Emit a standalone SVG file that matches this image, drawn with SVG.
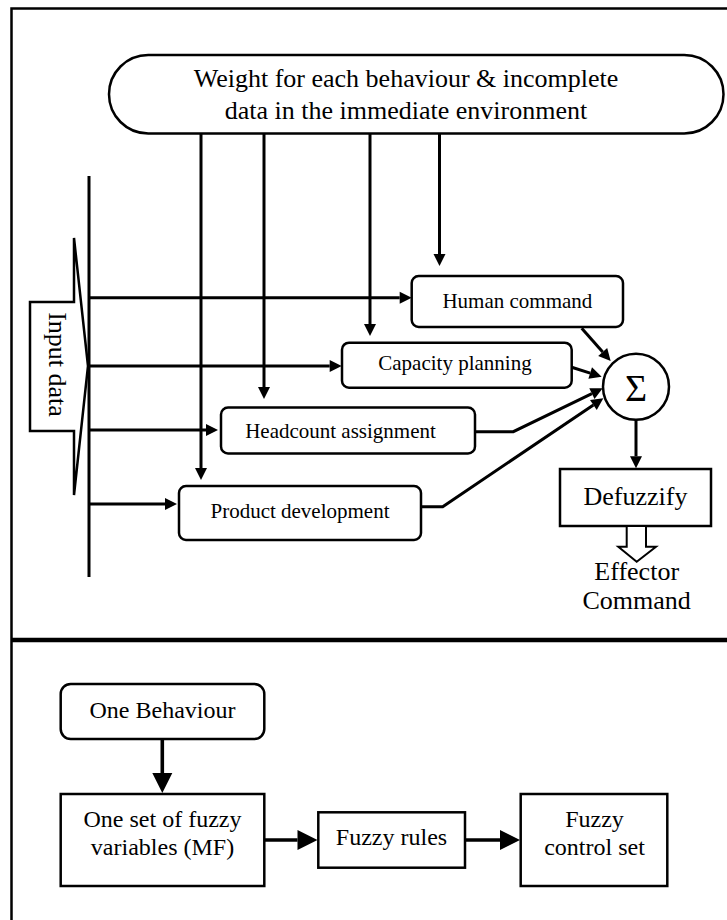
<svg xmlns="http://www.w3.org/2000/svg" width="727" height="920" viewBox="0 0 727 920">
  <style>
    text { font-family: "Liberation Serif", "Times New Roman", serif; fill: #000; }
    .box { fill: #fff; stroke: #000; stroke-width: 2.5; }
    .frame { fill: none; stroke: #000; stroke-width: 2.5; }
    .wire { fill: none; stroke: #000; stroke-width: 3; }
    .thick { fill: none; stroke: #000; stroke-width: 3.6; }
    .t26 { font-size: 26px; text-anchor: middle; }
    .t21 { font-size: 21px; text-anchor: middle; }
    .t24 { font-size: 24px; text-anchor: middle; }
  </style>
  <defs>
    <marker id="ah" markerUnits="userSpaceOnUse" markerWidth="13" markerHeight="13" refX="0" refY="6" orient="auto" overflow="visible">
      <path d="M0,0 L12,6 L0,12 Z" fill="#000"/>
    </marker>
    <marker id="ahBig" markerUnits="userSpaceOnUse" markerWidth="21" markerHeight="21" refX="0" refY="10" orient="auto" overflow="visible">
      <path d="M0,0 L20,10 L0,20 Z" fill="#000"/>
    </marker>
  </defs>

  <rect width="727" height="920" fill="#fff"/>

  <!-- outer frame and section divider -->
  <rect class="frame" x="11.5" y="8.5" width="740" height="940"/>
  <line x1="11" y1="640" x2="727" y2="640" stroke="#000" stroke-width="4.5"/>

  <!-- upper section: behaviour fusion -->
  <g id="weights">
    <rect class="box" x="109" y="55" width="614.5" height="78.5" rx="39.25"/>
    <text class="t26" x="406" y="87">Weight for each behaviour &amp; incomplete</text>
    <text class="t26" x="406" y="119">data in the immediate environment</text>
  </g>

  <g id="input-data">
    <polygon class="box" points="74,238 74,302 30,302 30,431 74,431 74,495 88,366"/>
    <text class="t26" transform="translate(49,364.5) rotate(90)" x="0" y="0">Input data</text>
  </g>

  <g id="connectors">
    <!-- input bus -->
    <line class="wire" x1="89" y1="176" x2="89" y2="577"/>
    <!-- bus to behaviours -->
    <line class="wire" x1="89" y1="297.7" x2="399.7" y2="297.7" marker-end="url(#ah)"/>
    <line class="wire" x1="89" y1="366" x2="329.7" y2="366" marker-end="url(#ah)"/>
    <line class="wire" x1="89" y1="430" x2="206" y2="430" marker-end="url(#ah)"/>
    <line class="wire" x1="89" y1="504" x2="165" y2="504" marker-end="url(#ah)"/>
    <!-- weights to behaviours -->
    <line class="wire" x1="201" y1="133" x2="201" y2="468" marker-end="url(#ah)"/>
    <line class="wire" x1="264" y1="133" x2="264" y2="387" marker-end="url(#ah)"/>
    <line class="wire" x1="370" y1="133" x2="370" y2="324" marker-end="url(#ah)"/>
    <line class="wire" x1="439.5" y1="133" x2="439.5" y2="254" marker-end="url(#ah)"/>
    <!-- behaviours to summation -->
    <line class="wire" x1="581.7" y1="328.3" x2="602.7" y2="352" marker-end="url(#ah)"/>
    <line class="wire" x1="571.7" y1="367.3" x2="590.2" y2="373.1" marker-end="url(#ah)"/>
    <polyline class="wire" points="475,431.7 513.3,431.7 591.9,393.6" marker-end="url(#ah)"/>
    <polyline class="wire" points="421,506.7 442.7,506.7 593.4,405" marker-end="url(#ah)"/>
    <!-- summation to defuzzify -->
    <line class="wire" x1="636" y1="420" x2="636" y2="456.3" marker-end="url(#ah)"/>
    <!-- lower section -->
    <line class="thick" x1="162.3" y1="739" x2="162.3" y2="773" marker-end="url(#ahBig)"/>
    <line class="thick" x1="264.3" y1="840" x2="297.5" y2="840" marker-end="url(#ahBig)"/>
    <line class="thick" x1="465" y1="840" x2="500" y2="840" marker-end="url(#ahBig)"/>
  </g>

  <g id="human-command">
    <rect class="box" x="411.7" y="276" width="211.3" height="51" rx="7"/>
    <text class="t21" x="517.4" y="308.3">Human command</text>
  </g>
  <g id="capacity-planning">
    <rect class="box" x="342" y="342.7" width="229.7" height="45" rx="7"/>
    <text class="t21" x="455" y="370">Capacity planning</text>
  </g>
  <g id="headcount-assignment">
    <rect class="box" x="221" y="407.5" width="254" height="46" rx="7"/>
    <text class="t21" x="340.5" y="438.3">Headcount assignment</text>
  </g>
  <g id="product-development">
    <rect class="box" x="179" y="486" width="242" height="54" rx="7"/>
    <text class="t21" x="300" y="518.3">Product development</text>
  </g>

  <g id="sum">
    <circle class="box" cx="636" cy="386.7" r="33"/>
    <text x="636" y="401" font-size="38" text-anchor="middle">Σ</text>
  </g>

  <g id="defuzzify">
    <rect class="box" x="560" y="469" width="151" height="57"/>
    <text class="t26" x="635.5" y="505">Defuzzify</text>
  </g>

  <g id="effector-command">
    <polygon fill="#fff" stroke="#000" stroke-width="2" points="626.7,526 626.7,546.7 618.3,546.7 636.7,561.7 656,546.7 646,546.7 646,526"/>
    <text class="t26" x="636.7" y="580">Effector</text>
    <text class="t26" x="636.7" y="609">Command</text>
  </g>

  <!-- lower section: single behaviour chain -->
  <g id="one-behaviour">
    <rect class="box" x="60.7" y="684" width="203.6" height="55" rx="10" stroke-width="2.7"/>
    <text class="t24" x="162.5" y="718.3">One Behaviour</text>
  </g>
  <g id="fuzzy-variables">
    <rect class="box" x="60.7" y="794" width="203.6" height="92" stroke-width="2.7"/>
    <text class="t24" x="162.5" y="826.7">One set of fuzzy</text>
    <text class="t24" x="162.5" y="855">variables (MF)</text>
  </g>
  <g id="fuzzy-rules">
    <rect class="box" x="318.3" y="812.3" width="146.7" height="55.4" stroke-width="2.7"/>
    <text class="t24" x="391.5" y="845">Fuzzy rules</text>
  </g>
  <g id="fuzzy-control-set">
    <rect class="box" x="520.7" y="794" width="146.6" height="92" stroke-width="2.7"/>
    <text class="t24" x="594.5" y="826.7">Fuzzy</text>
    <text class="t24" x="594.5" y="855">control set</text>
  </g>
</svg>
